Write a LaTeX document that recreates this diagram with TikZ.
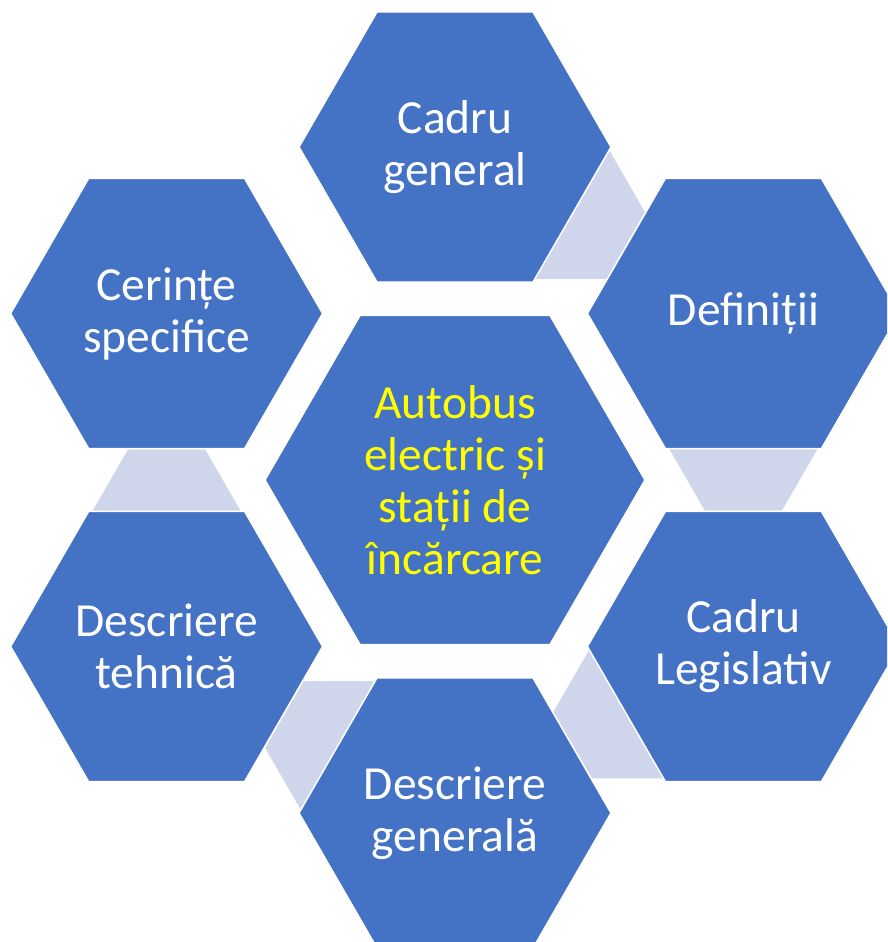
\documentclass[tikz,border=0pt]{standalone}
\usepackage{fontspec}
\setmainfont{Carlito}
\usetikzlibrary{shapes.geometric}
\definecolor{hexblue}{HTML}{4472C4}
\definecolor{connlight}{HTML}{CFD5EA}
\definecolor{txtyellow}{HTML}{FFFF00}
\tikzset{
  hexouter/.style={regular polygon, regular polygon sides=6, minimum size=312pt, inner sep=0pt, outer sep=0pt, fill=hexblue, draw=white, line width=1.5pt},
  hexcenter/.style={regular polygon, regular polygon sides=6, minimum size=380pt, inner sep=0pt, outer sep=0pt, fill=hexblue, draw=white, line width=1.5pt},
  hexconn/.style={regular polygon, regular polygon sides=6, minimum size=154pt, inner sep=0pt, outer sep=0pt, fill=connlight, draw=none},
  txt/.style={align=center, text=white, inner sep=0pt, font=\fontsize{47.5}{52}\selectfont},
  txtc/.style={txt, text=txtyellow}
}
\begin{document}
\begin{tikzpicture}[x=1pt,y=-1pt]
\useasboundingbox (0,0) rectangle (887,942);
\clip (0,0) rectangle (887,942);
% connectors
\node[hexconn] (k1) at (568,212.2) {};
\node[hexconn] (k2) at (743.4,444) {};
\node[hexconn] (k3) at (630.4,711.8) {};
\node[hexconn] (k4) at (342,747.8) {};
\node[hexconn] (k5) at (166.6,516) {};
% outer hexagons
\node[hexouter] (hA) at (455,147) {};
\node[hexouter] (hB) at (743.4,313.5) {};
\node[hexouter] (hC) at (743.4,646.5) {};
\node[hexouter] (hD) at (455,813) {};
\node[hexouter] (hE) at (166.6,646.5) {};
\node[hexouter] (hF) at (166.6,313.5) {};
% center hexagon
\node[hexcenter] (hO) at (455,480) {};
% texts
\node[txt] (tA) at (hA) {Cadru\\general};
\node[txt] (tB) at (hB) {Definiții};
\node[txt] (tC) at (hC) {Cadru\\Legislativ};
\node[txt] (tD) at (hD) {Descriere\\generală};
\node[txt] (tE) at (hE) {Descriere\\tehnică};
\node[txt] (tF) at (hF) {Cerințe\\specifice};
\node[txtc] (tO) at (hO) {Autobus\\electric și\\stații de\\încărcare};
\end{tikzpicture}
\end{document}
